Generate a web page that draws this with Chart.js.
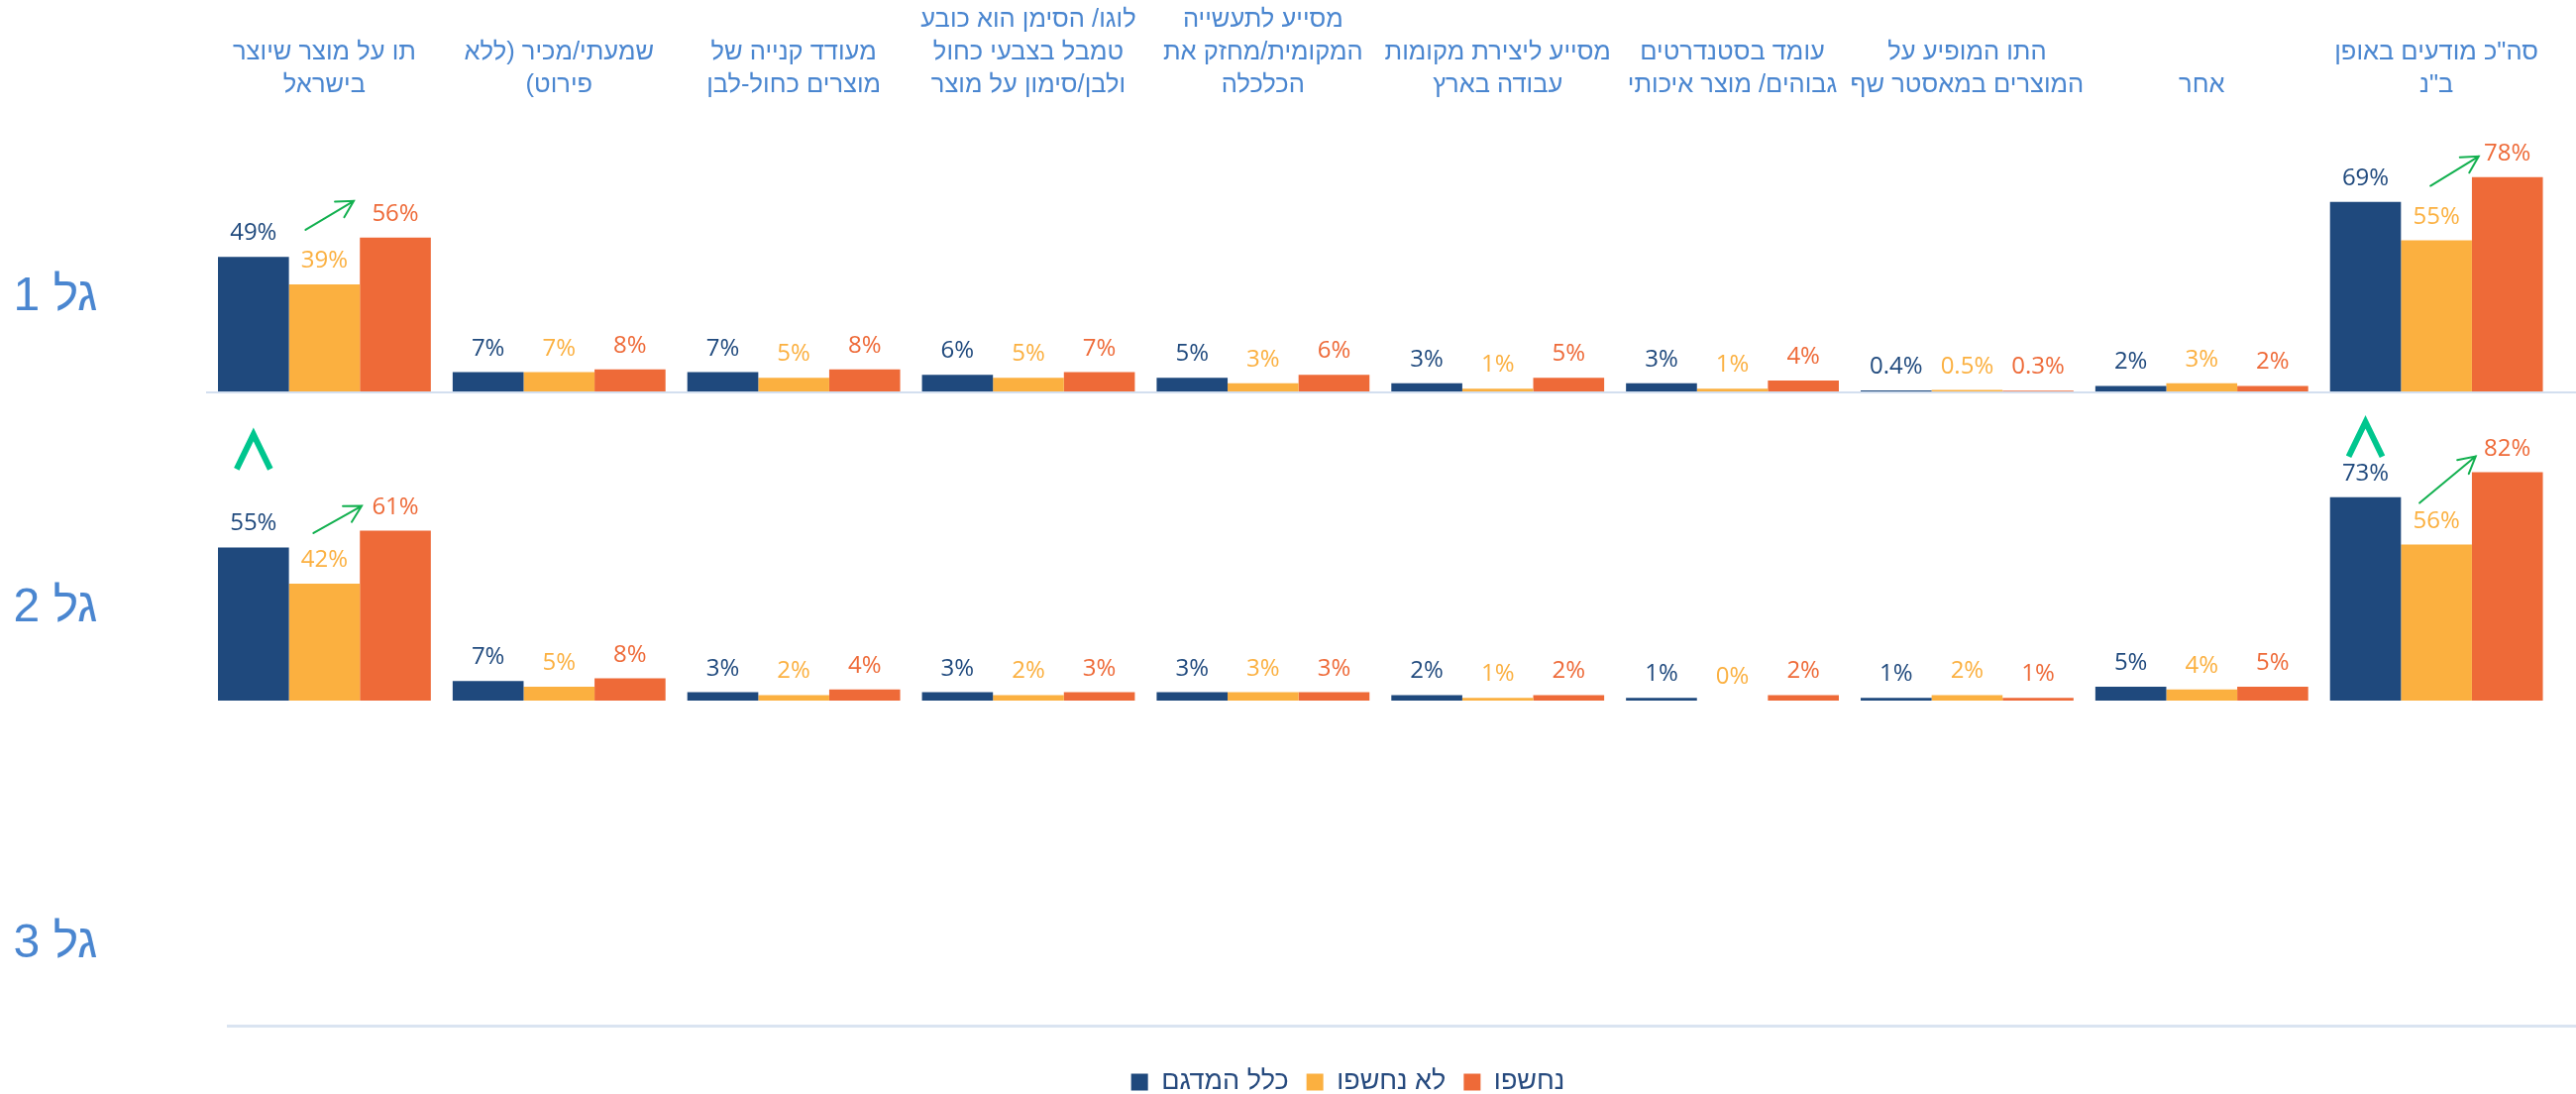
<!DOCTYPE html>
<html lang="he">
<head>
  <meta charset="UTF-8">
  <title>מודעות לתו כחול-לבן לפי גל</title>
  <script src="https://cdn.jsdelivr.net/npm/chart.js"></script>
  <style>
    html, body { margin: 0; background: #fff; }
    #wrap { position: relative; width: 2600px; height: 1104px; }
    canvas { direction: rtl; }
  </style>
</head>
<body>
  <div id="wrap"><canvas id="waveChart"></canvas></div>

  <script>
    const categories = [
      ['תו על מוצר שיוצר', 'בישראל'],
      ['שמעתי/מכיר (ללא', 'פירוט)'],
      ['מעודד קנייה של', 'מוצרים כחול-לבן'],
      ['לוגו/ הסימן הוא כובע', 'טמבל בצבעי כחול', 'ולבן/סימון על מוצר'],
      ['מסייע לתעשייה', 'המקומית/מחזק את', 'הכלכלה'],
      ['מסייע ליצירת מקומות', 'עבודה בארץ'],
      ['עומד בסטנדרטים', 'גבוהים/ מוצר איכותי'],
      ['התו המופיע על', 'המוצרים במאסטר שף'],
      ['אחר'],
      ['סה"כ מודעים באופן', 'ב"נ']
    ];
    const seriesNames = ['כלל המדגם', 'לא נחשפו', 'נחשפו'];
    const waveNames = ['גל 1', 'גל 2', 'גל 3'];

    // wave 1
    const wave1All        = [49, 7, 7, 6, 5, 3, 3, 0.4, 2, 69];
    const wave1NotExposed = [39, 7, 5, 5, 3, 1, 1, 0.5, 3, 55];
    const wave1Exposed    = [56, 8, 8, 7, 6, 5, 4, 0.3, 2, 78];
    // wave 2
    const wave2All        = [55, 7, 3, 3, 3, 2, 1, 1, 5, 73];
    const wave2NotExposed = [42, 5, 2, 2, 3, 1, 0, 2, 4, 56];
    const wave2Exposed    = [61, 8, 4, 3, 3, 2, 2, 1, 5, 82];

    const seriesColors = ['#1F497D', '#FBB040', '#EE6A38'];
    const headerBlue = '#4A86D0';
    const hebFont = '"Liberation Sans", "DejaVu Sans", sans-serif';
    const numFont = '"Open Sans", "Liberation Sans", sans-serif';

    // green arrows between "not exposed" and "exposed" (offsets from bar centre / top)
    const upArrows = [
      { wave: 0, index: 0, from: [-19, -55], to: [-42, -37] },
      { wave: 0, index: 9, from: [-6, -55],  to: [-29, -21] },
      { wave: 1, index: 0, from: [-11, -51], to: [-34, -25] },
      { wave: 1, index: 9, from: [-17, -42], to: [-32, -16] }
    ];
    // rise marks above the whole-sample bar of wave 2
    const riseMarks = [
      { wave: 1, index: 0, lift: 79 },
      { wave: 1, index: 9, lift: 41 }
    ];
    const waveLabelLift = [95, 93, 84];

    const waves = [
      [wave1All, wave1NotExposed, wave1Exposed],
      [wave2All, wave2NotExposed, wave2Exposed]
    ];
    const stackKeys = ['all', 'notExposed', 'exposed'];

    const datasets = [];
    waves.forEach((series, w) => {
      series.forEach((values, s) => {
        datasets.push({
          label: seriesNames[s],
          data: values,
          backgroundColor: seriesColors[s],
          borderWidth: 0,
          yAxisID: 'y' + (w + 1),
          stack: stackKeys[s],
          barPercentage: 1,
          categoryPercentage: 0.907
        });
      });
    });

    function rowAxis(max, height, weight) {
      return {
        type: 'linear',
        position: 'left',
        stack: 'waves',
        stackWeight: height,
        weight: weight,
        stacked: false,
        min: 0,
        max: max,
        grid: { display: false },
        border: { display: false },
        ticks: { display: false },
        afterFit: (scale) => { scale.width = 79; }
      };
    }

    const barOf = (chart, wave, series, index) =>
      chart.getDatasetMeta(wave * 3 + series).data[index];

    function drawArrow(ctx, x1, y1, x2, y2) {
      const ang = Math.atan2(y2 - y1, x2 - x1);
      const head = 19, spread = 0.5;
      ctx.beginPath();
      ctx.moveTo(x1, y1);
      ctx.lineTo(x2, y2);
      ctx.moveTo(x2 - head * Math.cos(ang - spread), y2 - head * Math.sin(ang - spread));
      ctx.lineTo(x2, y2);
      ctx.lineTo(x2 - head * Math.cos(ang + spread), y2 - head * Math.sin(ang + spread));
      ctx.stroke();
    }

    const waveDecor = {
      id: 'waveDecor',
      beforeDatasetsDraw(chart) {
        const ctx = chart.ctx;
        const w = chart.width;
        const y1 = chart.scales.y1.getPixelForValue(0);
        const y3 = chart.scales.y3.getPixelForValue(0);
        ctx.save();
        ctx.strokeStyle = '#D3DFEF';
        ctx.lineWidth = 2;
        ctx.beginPath();
        ctx.moveTo(chart.chartArea.left - 1, y1 + 1);
        ctx.lineTo(w, y1 + 1);
        ctx.stroke();
        ctx.strokeStyle = '#DAE4F1';
        ctx.lineWidth = 3;
        ctx.beginPath();
        ctx.moveTo(chart.chartArea.left + 20, y3 - 1.5);
        ctx.lineTo(w, y3 - 1.5);
        ctx.stroke();
        ctx.restore();
      },
      afterDatasetsDraw(chart) {
        const ctx = chart.ctx;
        ctx.save();

        // value labels
        ctx.font = '24px ' + numFont;
        ctx.textAlign = 'center';
        ctx.textBaseline = 'alphabetic';
        chart.data.datasets.forEach((ds, di) => {
          const meta = chart.getDatasetMeta(di);
          ctx.fillStyle = seriesColors[di % 3];
          meta.data.forEach((bar, i) => {
            ctx.fillText(ds.data[i] + '%', bar.x, bar.y - 17);
          });
        });

        // arrows
        ctx.strokeStyle = '#12B04F';
        ctx.lineWidth = 2;
        ctx.lineCap = 'round';
        upArrows.forEach(a => {
          const from = barOf(chart, a.wave, 1, a.index);
          const to = barOf(chart, a.wave, 2, a.index);
          drawArrow(ctx, from.x + a.from[0], from.y + a.from[1], to.x + a.to[0], to.y + a.to[1]);
        });

        // rise marks
        ctx.strokeStyle = '#00C68E';
        ctx.lineWidth = 6;
        ctx.lineCap = 'butt';
        ctx.lineJoin = 'miter';
        riseMarks.forEach(m => {
          const bar = barOf(chart, m.wave, 0, m.index);
          const bottom = bar.y - m.lift;
          ctx.beginPath();
          ctx.moveTo(bar.x - 17, bottom);
          ctx.lineTo(bar.x, bottom - 35);
          ctx.lineTo(bar.x + 17, bottom);
          ctx.stroke();
        });

        // wave names on the left
        ctx.font = '48px ' + hebFont;
        ctx.fillStyle = headerBlue;
        ctx.textBaseline = 'middle';
        waveNames.forEach((name, w) => {
          const base = chart.scales['y' + (w + 1)].getPixelForValue(0);
          ctx.fillText(name, 56, base - waveLabelLift[w]);
        });
        ctx.restore();
      }
    };

    new Chart(document.getElementById('waveChart'), {
      type: 'bar',
      data: { labels: categories, datasets: datasets },
      plugins: [waveDecor],
      options: {
        responsive: true,
        maintainAspectRatio: false,
        animation: false,
        layout: { padding: { left: 130, right: 9, top: 0, bottom: -11.5 } },
        plugins: {
          tooltip: { enabled: false },
          legend: {
            position: 'bottom',
            title: { display: true, text: '', font: { size: 10, lineHeight: 1 }, padding: { top: 13.5, bottom: 0 } },
            labels: {
              filter: (item) => item.datasetIndex < 3,
              boxWidth: 17,
              boxHeight: 17,
              padding: 18,
              color: '#264A7E',
              font: { family: hebFont, size: 27 }
            }
          }
        },
        scales: {
          x: {
            position: 'top',
            offset: true,
            grid: { display: false, drawTicks: false },
            border: { display: false },
            ticks: {
              color: headerBlue,
              font: { family: hebFont, size: 25.5, lineHeight: 33 / 25.5 },
              padding: 37.5,
              autoSkip: false,
              maxRotation: 0,
              minRotation: 0
            },
            afterFit: (scale) => { scale.height = 140; }
          },
          y1: rowAxis(92, 255, 3),
          y2: rowAxis(111, 312, 2),
          y3: rowAxis(100, 330, 1)
        }
      }
    });
  </script>
</body>
</html>
